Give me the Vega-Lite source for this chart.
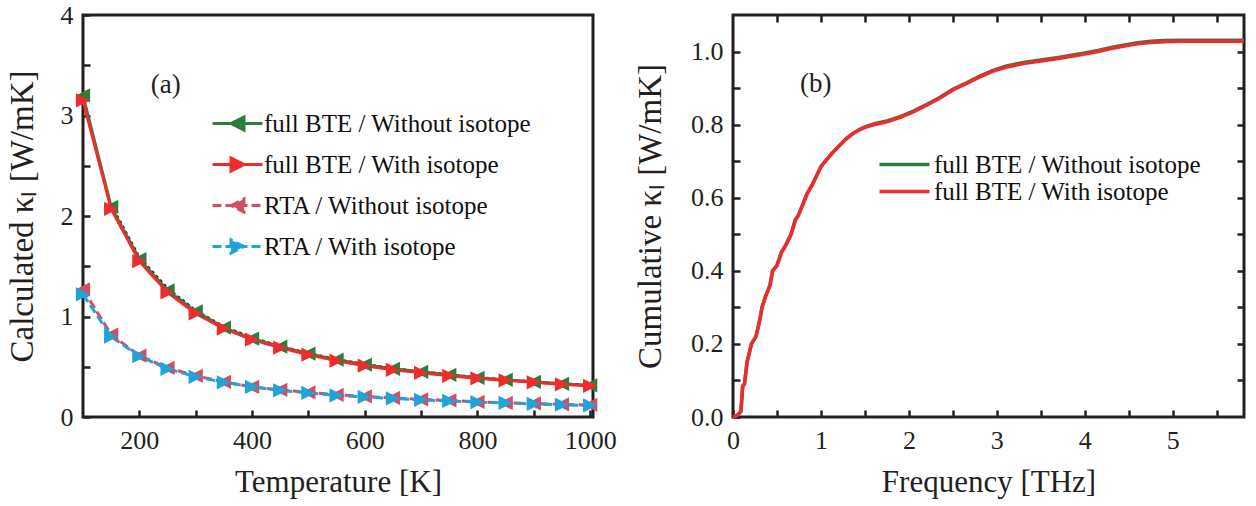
{
  "$schema": "https://vega.github.io/schema/vega-lite/v6.json",
  "autosize": {"type": "pad"},
  "padding": {"left": 4, "top": 0, "right": 0, "bottom": 0},
  "background": "white",
  "spacing": 140,
  "bounds": "flush",
  "config": {
    "font": "Liberation Serif",
    "view": {"stroke": "#231f20", "strokeWidth": 3},
    "axis": {
      "domain": false, "grid": false,
      "tickColor": "#231f20", "tickWidth": 2.5, "tickSize": -7,
      "labelFont": "Liberation Serif", "labelFontSize": 26, "labelColor": "#231f20",
      "labelFlush": false, "labelOverlap": false,
      "titleFont": "Liberation Serif", "titleFontWeight": "normal", "titleFontSize": 31, "titleColor": "#231f20"
    },
    "axisX": {"labelPadding": 17, "titlePadding": 14},
    "axisY": {"labelPadding": 17, "titlePadding": 21, "titleFontSize": 33},
    "legend": {"labelFont": "Liberation Serif", "labelColor": "#111", "labelFontSize": 25, "labelLimit": 500}
  },
  "resolve": {"scale": {"color": "independent", "shape": "independent", "strokeDash": "independent"}, "legend": {"color": "independent"}},
  "datasets": {
    "left": [
      {"T": 100, "k": 3.20, "s": "full BTE / Without isotope"},
      {"T": 150, "k": 2.09, "s": "full BTE / Without isotope"},
      {"T": 200, "k": 1.57, "s": "full BTE / Without isotope"},
      {"T": 250, "k": 1.26, "s": "full BTE / Without isotope"},
      {"T": 300, "k": 1.05, "s": "full BTE / Without isotope"},
      {"T": 350, "k": 0.89, "s": "full BTE / Without isotope"},
      {"T": 400, "k": 0.78, "s": "full BTE / Without isotope"},
      {"T": 450, "k": 0.70, "s": "full BTE / Without isotope"},
      {"T": 500, "k": 0.63, "s": "full BTE / Without isotope"},
      {"T": 550, "k": 0.57, "s": "full BTE / Without isotope"},
      {"T": 600, "k": 0.52, "s": "full BTE / Without isotope"},
      {"T": 650, "k": 0.48, "s": "full BTE / Without isotope"},
      {"T": 700, "k": 0.45, "s": "full BTE / Without isotope"},
      {"T": 750, "k": 0.42, "s": "full BTE / Without isotope"},
      {"T": 800, "k": 0.39, "s": "full BTE / Without isotope"},
      {"T": 850, "k": 0.37, "s": "full BTE / Without isotope"},
      {"T": 900, "k": 0.35, "s": "full BTE / Without isotope"},
      {"T": 950, "k": 0.33, "s": "full BTE / Without isotope"},
      {"T": 1000, "k": 0.315, "s": "full BTE / Without isotope"},
      {"T": 100, "k": 3.15, "s": "full BTE / With isotope"},
      {"T": 150, "k": 2.07, "s": "full BTE / With isotope"},
      {"T": 200, "k": 1.55, "s": "full BTE / With isotope"},
      {"T": 250, "k": 1.24, "s": "full BTE / With isotope"},
      {"T": 300, "k": 1.03, "s": "full BTE / With isotope"},
      {"T": 350, "k": 0.88, "s": "full BTE / With isotope"},
      {"T": 400, "k": 0.77, "s": "full BTE / With isotope"},
      {"T": 450, "k": 0.69, "s": "full BTE / With isotope"},
      {"T": 500, "k": 0.62, "s": "full BTE / With isotope"},
      {"T": 550, "k": 0.56, "s": "full BTE / With isotope"},
      {"T": 600, "k": 0.51, "s": "full BTE / With isotope"},
      {"T": 650, "k": 0.47, "s": "full BTE / With isotope"},
      {"T": 700, "k": 0.44, "s": "full BTE / With isotope"},
      {"T": 750, "k": 0.41, "s": "full BTE / With isotope"},
      {"T": 800, "k": 0.385, "s": "full BTE / With isotope"},
      {"T": 850, "k": 0.365, "s": "full BTE / With isotope"},
      {"T": 900, "k": 0.345, "s": "full BTE / With isotope"},
      {"T": 950, "k": 0.325, "s": "full BTE / With isotope"},
      {"T": 1000, "k": 0.31, "s": "full BTE / With isotope"},
      {"T": 100, "k": 1.27, "s": "RTA / Without isotope"},
      {"T": 150, "k": 0.82, "s": "RTA / Without isotope"},
      {"T": 200, "k": 0.61, "s": "RTA / Without isotope"},
      {"T": 250, "k": 0.49, "s": "RTA / Without isotope"},
      {"T": 300, "k": 0.41, "s": "RTA / Without isotope"},
      {"T": 350, "k": 0.35, "s": "RTA / Without isotope"},
      {"T": 400, "k": 0.30, "s": "RTA / Without isotope"},
      {"T": 450, "k": 0.27, "s": "RTA / Without isotope"},
      {"T": 500, "k": 0.245, "s": "RTA / Without isotope"},
      {"T": 550, "k": 0.22, "s": "RTA / Without isotope"},
      {"T": 600, "k": 0.205, "s": "RTA / Without isotope"},
      {"T": 650, "k": 0.19, "s": "RTA / Without isotope"},
      {"T": 700, "k": 0.175, "s": "RTA / Without isotope"},
      {"T": 750, "k": 0.165, "s": "RTA / Without isotope"},
      {"T": 800, "k": 0.15, "s": "RTA / Without isotope"},
      {"T": 850, "k": 0.14, "s": "RTA / Without isotope"},
      {"T": 900, "k": 0.135, "s": "RTA / Without isotope"},
      {"T": 950, "k": 0.125, "s": "RTA / Without isotope"},
      {"T": 1000, "k": 0.12, "s": "RTA / Without isotope"},
      {"T": 100, "k": 1.22, "s": "RTA / With isotope"},
      {"T": 150, "k": 0.80, "s": "RTA / With isotope"},
      {"T": 200, "k": 0.605, "s": "RTA / With isotope"},
      {"T": 250, "k": 0.48, "s": "RTA / With isotope"},
      {"T": 300, "k": 0.40, "s": "RTA / With isotope"},
      {"T": 350, "k": 0.345, "s": "RTA / With isotope"},
      {"T": 400, "k": 0.30, "s": "RTA / With isotope"},
      {"T": 450, "k": 0.265, "s": "RTA / With isotope"},
      {"T": 500, "k": 0.24, "s": "RTA / With isotope"},
      {"T": 550, "k": 0.215, "s": "RTA / With isotope"},
      {"T": 600, "k": 0.20, "s": "RTA / With isotope"},
      {"T": 650, "k": 0.185, "s": "RTA / With isotope"},
      {"T": 700, "k": 0.17, "s": "RTA / With isotope"},
      {"T": 750, "k": 0.16, "s": "RTA / With isotope"},
      {"T": 800, "k": 0.148, "s": "RTA / With isotope"},
      {"T": 850, "k": 0.14, "s": "RTA / With isotope"},
      {"T": 900, "k": 0.13, "s": "RTA / With isotope"},
      {"T": 950, "k": 0.122, "s": "RTA / With isotope"},
      {"T": 1000, "k": 0.115, "s": "RTA / With isotope"}
    ],
    "dash": [
      {"T": 150, "k": 2.11}, {"T": 200, "k": 1.59}, {"T": 250, "k": 1.28}, {"T": 300, "k": 1.06},
      {"T": 350, "k": 0.90}, {"T": 400, "k": 0.79}, {"T": 450, "k": 0.705}, {"T": 500, "k": 0.635},
      {"T": 550, "k": 0.575}, {"T": 600, "k": 0.525}, {"T": 650, "k": 0.485}, {"T": 700, "k": 0.452},
      {"T": 750, "k": 0.422}, {"T": 800, "k": 0.395}, {"T": 850, "k": 0.372}, {"T": 900, "k": 0.352},
      {"T": 950, "k": 0.332}, {"T": 1000, "k": 0.318}
    ],
    "right": [
      {"f": 0, "k": 0, "s": "full BTE / Without isotope"},
      {"f": 0.05, "k": 0.005, "s": "full BTE / Without isotope"},
      {"f": 0.09, "k": 0.015, "s": "full BTE / Without isotope"},
      {"f": 0.11, "k": 0.085, "s": "full BTE / Without isotope"},
      {"f": 0.13, "k": 0.09, "s": "full BTE / Without isotope"},
      {"f": 0.16, "k": 0.15, "s": "full BTE / Without isotope"},
      {"f": 0.18, "k": 0.17, "s": "full BTE / Without isotope"},
      {"f": 0.21, "k": 0.2, "s": "full BTE / Without isotope"},
      {"f": 0.26, "k": 0.22, "s": "full BTE / Without isotope"},
      {"f": 0.3, "k": 0.26, "s": "full BTE / Without isotope"},
      {"f": 0.33, "k": 0.3, "s": "full BTE / Without isotope"},
      {"f": 0.37, "k": 0.33, "s": "full BTE / Without isotope"},
      {"f": 0.42, "k": 0.36, "s": "full BTE / Without isotope"},
      {"f": 0.45, "k": 0.4, "s": "full BTE / Without isotope"},
      {"f": 0.5, "k": 0.415, "s": "full BTE / Without isotope"},
      {"f": 0.55, "k": 0.45, "s": "full BTE / Without isotope"},
      {"f": 0.6, "k": 0.47, "s": "full BTE / Without isotope"},
      {"f": 0.66, "k": 0.5, "s": "full BTE / Without isotope"},
      {"f": 0.71, "k": 0.54, "s": "full BTE / Without isotope"},
      {"f": 0.74, "k": 0.55, "s": "full BTE / Without isotope"},
      {"f": 0.8, "k": 0.585, "s": "full BTE / Without isotope"},
      {"f": 0.84, "k": 0.61, "s": "full BTE / Without isotope"},
      {"f": 0.9, "k": 0.635, "s": "full BTE / Without isotope"},
      {"f": 0.96, "k": 0.665, "s": "full BTE / Without isotope"},
      {"f": 1.0, "k": 0.685, "s": "full BTE / Without isotope"},
      {"f": 1.05, "k": 0.7, "s": "full BTE / Without isotope"},
      {"f": 1.12, "k": 0.72, "s": "full BTE / Without isotope"},
      {"f": 1.2, "k": 0.74, "s": "full BTE / Without isotope"},
      {"f": 1.28, "k": 0.76, "s": "full BTE / Without isotope"},
      {"f": 1.36, "k": 0.775, "s": "full BTE / Without isotope"},
      {"f": 1.44, "k": 0.787, "s": "full BTE / Without isotope"},
      {"f": 1.52, "k": 0.796, "s": "full BTE / Without isotope"},
      {"f": 1.62, "k": 0.803, "s": "full BTE / Without isotope"},
      {"f": 1.75, "k": 0.81, "s": "full BTE / Without isotope"},
      {"f": 1.9, "k": 0.822, "s": "full BTE / Without isotope"},
      {"f": 2.05, "k": 0.837, "s": "full BTE / Without isotope"},
      {"f": 2.2, "k": 0.855, "s": "full BTE / Without isotope"},
      {"f": 2.35, "k": 0.874, "s": "full BTE / Without isotope"},
      {"f": 2.5, "k": 0.897, "s": "full BTE / Without isotope"},
      {"f": 2.65, "k": 0.914, "s": "full BTE / Without isotope"},
      {"f": 2.8, "k": 0.932, "s": "full BTE / Without isotope"},
      {"f": 2.95, "k": 0.948, "s": "full BTE / Without isotope"},
      {"f": 3.1, "k": 0.96, "s": "full BTE / Without isotope"},
      {"f": 3.3, "k": 0.97, "s": "full BTE / Without isotope"},
      {"f": 3.5, "k": 0.977, "s": "full BTE / Without isotope"},
      {"f": 3.7, "k": 0.984, "s": "full BTE / Without isotope"},
      {"f": 3.9, "k": 0.992, "s": "full BTE / Without isotope"},
      {"f": 4.0, "k": 0.996, "s": "full BTE / Without isotope"},
      {"f": 4.15, "k": 1.003, "s": "full BTE / Without isotope"},
      {"f": 4.3, "k": 1.011, "s": "full BTE / Without isotope"},
      {"f": 4.45, "k": 1.018, "s": "full BTE / Without isotope"},
      {"f": 4.6, "k": 1.024, "s": "full BTE / Without isotope"},
      {"f": 4.75, "k": 1.028, "s": "full BTE / Without isotope"},
      {"f": 4.9, "k": 1.03, "s": "full BTE / Without isotope"},
      {"f": 5.1, "k": 1.031, "s": "full BTE / Without isotope"},
      {"f": 5.4, "k": 1.031, "s": "full BTE / Without isotope"},
      {"f": 5.81, "k": 1.031, "s": "full BTE / Without isotope"},
      {"f": 0, "k": 0, "s": "full BTE / With isotope"},
      {"f": 0.05, "k": 0.005, "s": "full BTE / With isotope"},
      {"f": 0.09, "k": 0.015, "s": "full BTE / With isotope"},
      {"f": 0.11, "k": 0.085, "s": "full BTE / With isotope"},
      {"f": 0.13, "k": 0.09, "s": "full BTE / With isotope"},
      {"f": 0.16, "k": 0.15, "s": "full BTE / With isotope"},
      {"f": 0.18, "k": 0.17, "s": "full BTE / With isotope"},
      {"f": 0.21, "k": 0.2, "s": "full BTE / With isotope"},
      {"f": 0.26, "k": 0.22, "s": "full BTE / With isotope"},
      {"f": 0.3, "k": 0.26, "s": "full BTE / With isotope"},
      {"f": 0.33, "k": 0.3, "s": "full BTE / With isotope"},
      {"f": 0.37, "k": 0.33, "s": "full BTE / With isotope"},
      {"f": 0.42, "k": 0.36, "s": "full BTE / With isotope"},
      {"f": 0.45, "k": 0.4, "s": "full BTE / With isotope"},
      {"f": 0.5, "k": 0.415, "s": "full BTE / With isotope"},
      {"f": 0.55, "k": 0.45, "s": "full BTE / With isotope"},
      {"f": 0.6, "k": 0.47, "s": "full BTE / With isotope"},
      {"f": 0.66, "k": 0.5, "s": "full BTE / With isotope"},
      {"f": 0.71, "k": 0.54, "s": "full BTE / With isotope"},
      {"f": 0.74, "k": 0.55, "s": "full BTE / With isotope"},
      {"f": 0.8, "k": 0.585, "s": "full BTE / With isotope"},
      {"f": 0.84, "k": 0.61, "s": "full BTE / With isotope"},
      {"f": 0.9, "k": 0.635, "s": "full BTE / With isotope"},
      {"f": 0.96, "k": 0.665, "s": "full BTE / With isotope"},
      {"f": 1.0, "k": 0.685, "s": "full BTE / With isotope"},
      {"f": 1.05, "k": 0.7, "s": "full BTE / With isotope"},
      {"f": 1.12, "k": 0.72, "s": "full BTE / With isotope"},
      {"f": 1.2, "k": 0.74, "s": "full BTE / With isotope"},
      {"f": 1.28, "k": 0.76, "s": "full BTE / With isotope"},
      {"f": 1.36, "k": 0.775, "s": "full BTE / With isotope"},
      {"f": 1.44, "k": 0.786, "s": "full BTE / With isotope"},
      {"f": 1.52, "k": 0.794, "s": "full BTE / With isotope"},
      {"f": 1.62, "k": 0.801, "s": "full BTE / With isotope"},
      {"f": 1.75, "k": 0.808, "s": "full BTE / With isotope"},
      {"f": 1.9, "k": 0.82, "s": "full BTE / With isotope"},
      {"f": 2.05, "k": 0.835, "s": "full BTE / With isotope"},
      {"f": 2.2, "k": 0.853, "s": "full BTE / With isotope"},
      {"f": 2.35, "k": 0.872, "s": "full BTE / With isotope"},
      {"f": 2.5, "k": 0.895, "s": "full BTE / With isotope"},
      {"f": 2.65, "k": 0.912, "s": "full BTE / With isotope"},
      {"f": 2.8, "k": 0.93, "s": "full BTE / With isotope"},
      {"f": 2.95, "k": 0.946, "s": "full BTE / With isotope"},
      {"f": 3.1, "k": 0.957, "s": "full BTE / With isotope"},
      {"f": 3.3, "k": 0.967, "s": "full BTE / With isotope"},
      {"f": 3.5, "k": 0.974, "s": "full BTE / With isotope"},
      {"f": 3.7, "k": 0.981, "s": "full BTE / With isotope"},
      {"f": 3.9, "k": 0.989, "s": "full BTE / With isotope"},
      {"f": 4.0, "k": 0.993, "s": "full BTE / With isotope"},
      {"f": 4.15, "k": 1.0, "s": "full BTE / With isotope"},
      {"f": 4.3, "k": 1.008, "s": "full BTE / With isotope"},
      {"f": 4.45, "k": 1.015, "s": "full BTE / With isotope"},
      {"f": 4.6, "k": 1.021, "s": "full BTE / With isotope"},
      {"f": 4.75, "k": 1.025, "s": "full BTE / With isotope"},
      {"f": 4.9, "k": 1.027, "s": "full BTE / With isotope"},
      {"f": 5.1, "k": 1.028, "s": "full BTE / With isotope"},
      {"f": 5.4, "k": 1.028, "s": "full BTE / With isotope"},
      {"f": 5.81, "k": 1.028, "s": "full BTE / With isotope"}
    ]
  },
  "hconcat": [
    {
      "width": 510,
      "height": 402,
      "layer": [
        {
          "data": {"name": "dash"},
          "mark": {"type": "line", "color": "#231f20", "strokeWidth": 2.5, "strokeDash": [3, 3], "clip": false},
          "encoding": {
            "x": {"field": "T", "type": "quantitative", "scale": {"domain": [100, 1005], "nice": false, "zero": false},
                  "axis": {"title": "Temperature [K]", "values": [200, 300, 400, 500, 600, 700, 800, 900, 1000],
                           "labelExpr": "datum.value % 200 === 0 ? format(datum.value, 'd') : ''"}},
            "y": {"field": "k", "type": "quantitative", "scale": {"domain": [0, 4], "nice": false},
                  "axis": {"title": "Calculated κₗ [W/mK]", "values": [0, 0.5, 1, 1.5, 2, 2.5, 3, 3.5, 4],
                           "labelExpr": "datum.value % 1 === 0 ? format(datum.value, 'd') : ''"}}
          }
        },
        {
          "data": {"name": "left"},
          "mark": {"type": "line", "strokeWidth": 3, "clip": false},
          "encoding": {
            "x": {"field": "T", "type": "quantitative"},
            "y": {"field": "k", "type": "quantitative"},
            "color": {
              "field": "s", "type": "nominal",
              "scale": {"domain": ["full BTE / Without isotope", "full BTE / With isotope", "RTA / Without isotope", "RTA / With isotope"],
                        "range": ["#2f7d3c", "#ef2b2b", "#d24f62", "#1fa3d8"]},
              "legend": {
                "title": null, "orient": "none", "legendX": 142, "legendY": 96, "padding": 0,
                "labelFontSize": 25, "labelOffset": 14, "rowPadding": 15, "symbolSize": 100, "symbolStrokeWidth": 3
              }
            },
            "strokeDash": {
              "field": "s", "type": "nominal", "legend": null,
              "scale": {"domain": ["full BTE / Without isotope", "full BTE / With isotope", "RTA / Without isotope", "RTA / With isotope"],
                        "range": [[1, 0], [1, 0], [9, 4], [9, 4]]}
            }
          }
        },
        {
          "data": {"name": "left"},
          "mark": {"type": "point", "filled": true, "size": 120, "opacity": 1, "clip": false},
          "encoding": {
            "x": {"field": "T", "type": "quantitative"},
            "y": {"field": "k", "type": "quantitative"},
            "color": {"field": "s", "type": "nominal"},
            "shape": {
              "field": "s", "type": "nominal", "legend": null,
              "scale": {"domain": ["full BTE / Without isotope", "full BTE / With isotope", "RTA / Without isotope", "RTA / With isotope"],
                        "range": ["M-5,0H5M-1.3,0L1.3,-1.3L1.3,1.3Z", "M-5,0H5M1.3,0L-1.3,-1.3L-1.3,1.3Z", "M-5,0H5M-1.3,0L1.3,-1.3L1.3,1.3Z", "M-5,0H5M1.3,0L-1.3,-1.3L-1.3,1.3Z"]}
            }
          }
        },
        {
          "data": {"values": [{"T": 247, "k": 3.30, "t": "(a)"}]},
          "mark": {"type": "text", "font": "Liberation Serif", "fontSize": 27, "color": "#231f20"},
          "encoding": {
            "x": {"field": "T", "type": "quantitative"},
            "y": {"field": "k", "type": "quantitative"},
            "text": {"field": "t"}
          }
        }
      ]
    },
    {
      "width": 511,
      "height": 402,
      "layer": [
        {
          "data": {"name": "right"},
          "mark": {"type": "line", "strokeWidth": 3.5},
          "encoding": {
            "x": {"field": "f", "type": "quantitative", "scale": {"domain": [0, 5.81], "nice": false, "zero": false},
                  "axis": {"title": "Frequency [THz]", "values": [0, 0.5, 1, 1.5, 2, 2.5, 3, 3.5, 4, 4.5, 5, 5.5],
                           "labelExpr": "datum.value % 1 === 0 ? format(datum.value, 'd') : ''"}},
            "y": {"field": "k", "type": "quantitative", "scale": {"domain": [0, 1.1], "nice": false},
                  "axis": {"title": "Cumulative κₗ [W/mK]", "titlePadding": 23, "values": [0, 0.1, 0.2, 0.3, 0.4, 0.5, 0.6, 0.7, 0.8, 0.9, 1.0],
                           "labelExpr": "round(datum.value*10) % 2 === 0 ? format(datum.value, '.1f') : ''"}},
            "color": {
              "field": "s", "type": "nominal",
              "scale": {"domain": ["full BTE / Without isotope", "full BTE / With isotope"], "range": ["#2f7d3c", "#ef2b2b"]},
              "legend": {
                "title": null, "orient": "none", "legendX": 159, "legendY": 137, "padding": 0,
                "labelFontSize": 25, "labelOffset": 17, "rowPadding": 1, "symbolSize": 100, "symbolStrokeWidth": 3.5,
                "symbolType": "M-5,0H5"
              }
            }
          }
        },
        {
          "data": {"name": "right"},
          "mark": {"type": "line", "opacity": 0},
          "encoding": {
            "x": {"field": "f", "type": "quantitative",
                  "axis": {"orient": "top", "labels": false, "title": null, "values": [0.5, 1, 1.5, 2, 2.5, 3, 3.5, 4, 4.5, 5, 5.5]}},
            "y": {"field": "k", "type": "quantitative",
                  "axis": {"orient": "right", "labels": false, "title": null, "values": [0.1, 0.2, 0.3, 0.4, 0.5, 0.6, 0.7, 0.8, 0.9, 1.0]}}
          }
        },
        {
          "data": {"values": [{"f": 0.94, "k": 0.91, "t": "(b)"}]},
          "mark": {"type": "text", "font": "Liberation Serif", "fontSize": 27, "color": "#231f20"},
          "encoding": {
            "x": {"field": "f", "type": "quantitative", "axis": null},
            "y": {"field": "k", "type": "quantitative", "axis": null},
            "text": {"field": "t"}
          }
        }
      ],
      "resolve": {"axis": {"x": "independent", "y": "independent"}}
    }
  ]
}
